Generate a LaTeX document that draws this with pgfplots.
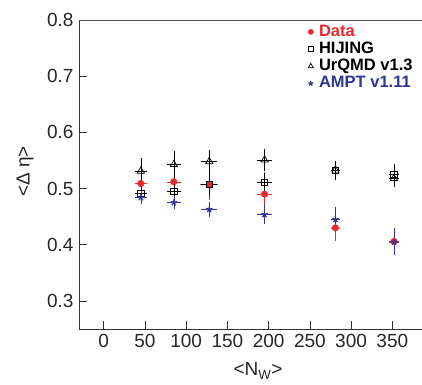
\documentclass[border=0pt]{standalone}
\usepackage{pgfplots}
\pgfplotsset{compat=1.18}
\usepackage{fontspec}
\setmainfont{Liberation Sans}
\definecolor{dred}{RGB}{235,40,45}
\definecolor{dblue}{RGB}{48,52,148}
\pgfplotsset{myerr/.style={only marks,
    error bars/x dir=both, error bars/x explicit, error bars/y dir=both, error bars/y explicit,
    error bars/error mark=|,
    error bars/error bar style={line width=0.6pt, #1},
    error bars/error mark options={#1, rotate=90, mark size=2.2pt, line width=0.6pt}}}
\begin{document}
\begin{tikzpicture}
\begin{axis}[
  scale only axis, width=343pt, height=309pt,
  xmin=-30, xmax=386, ymin=0.25, ymax=0.8,
  axis x line*=bottom, axis y line*=left,
  axis line style={line width=0.8pt, draw=black!80},
  tick align=inside, major tick length=8pt,
  tick style={line width=0.7pt, black!80},
  xtick={0,50,...,350}, ytick={0.3,0.4,...,0.8},
  yticklabel style={/pgf/number format/fixed,/pgf/number format/precision=1,/pgf/number format/fixed zerofill, xshift=-2pt},
  xticklabel style={yshift=-2pt},
  /pgf/number format/assume math mode=true,
  ticklabel style={font=\fontsize{19}{20}\selectfont, black!85},
  xlabel={<N\textsubscript{W}>}, ylabel={<Δ η>},
  every axis x label/.style={at={(rel axis cs:0.522,0)}, anchor=center, yshift=-42pt},
  every axis y label/.style={at={(rel axis cs:0,0.51)}, anchor=center, xshift=-54pt, rotate=90},
  label style={font=\fontsize{19}{20}\selectfont, black!85},
  legend style={draw=none, fill=none, at={(rel axis cs:0.663,0.99)}, anchor=north west,
    font=\fontsize{16.5}{17}\selectfont\bfseries, row sep=0pt, inner sep=0pt, column sep=3pt,
    nodes={inner sep=1pt, text height=12pt, text depth=3.2pt}},
  legend cell align=left,
  legend image code/.code={\path (0pt,0pt) (8pt,0pt); \draw[#1] plot coordinates {(4pt,0pt)};},
]
\coordinate (O) at (rel axis cs:0,0);
\draw[line width=0.8pt, black!70] (rel axis cs:0,1) -- (rel axis cs:1,1);
\addplot[myerr=dred, mark=*, mark size=3.3pt, mark options={fill=dred, draw=dred}, draw=dred,
  legend image post style={mark size=2.6pt}]
 coordinates {
 (45,0.509) +- (5,0.012)
 (85,0.512) +- (6,0.012)
 (128,0.507) +- (8,0.024)
 (195,0.490) +- (6,0.035)
 (281,0.430) +- (3,0.019)
 (352,0.406) +- (3,0.020)
 };
\addlegendentry{\textcolor{dred}{Data}}
\addplot[myerr=black, mark=square, mark size=3.1pt, mark options={draw=black, fill=none, line width=0.8pt}, draw=black,
  legend image post style={mark size=2.5pt}]
 coordinates {
 (45,0.492) +- (5,0.012)
 (85,0.495) +- (6,0.012)
 (128,0.507) +- (7,0.016)
 (195,0.511) +- (6,0.012)
 (281,0.532) +- (3,0.012)
 (352,0.525) +- (3,0.015)
 };
\addlegendentry{HIJING}
\addplot[myerr=black, mark=triangle, mark size=4.2pt, mark options={draw=black, fill=none, line width=0.7pt}, draw=black,
  legend image post style={mark size=3pt}]
 coordinates {
 (45,0.531) +- (5,0.020)
 (85,0.543) +- (6,0.020)
 (128,0.548) +- (7,0.016)
 (195,0.551) +- (6,0.015)
 (281,0.533) +- (3,0.012)
 (352,0.518) +- (3,0.012)
 };
\addlegendentry{UrQMD v1.3}
\addplot[myerr=dblue, mark=star, mark size=3.3pt, mark options={draw=dblue, fill=dblue, line width=1.3pt}, draw=dblue,
  legend image post style={mark size=2.5pt}]
 coordinates {
 (45,0.484) +- (5,0.008)
 (85,0.475) +- (6,0.008)
 (128,0.463) +- (7,0.010)
 (195,0.454) +- (6,0.013)
 (281,0.445) +- (3,0.018)
 (352,0.405) +- (3,0.020)
 };
\addlegendentry{\textcolor{dblue}{AMPT v1.11}}
\end{axis}
\pgfresetboundingbox
\path (O) ++(-79pt,-55pt) rectangle ++(422pt,384pt);
\end{tikzpicture}
\end{document}
